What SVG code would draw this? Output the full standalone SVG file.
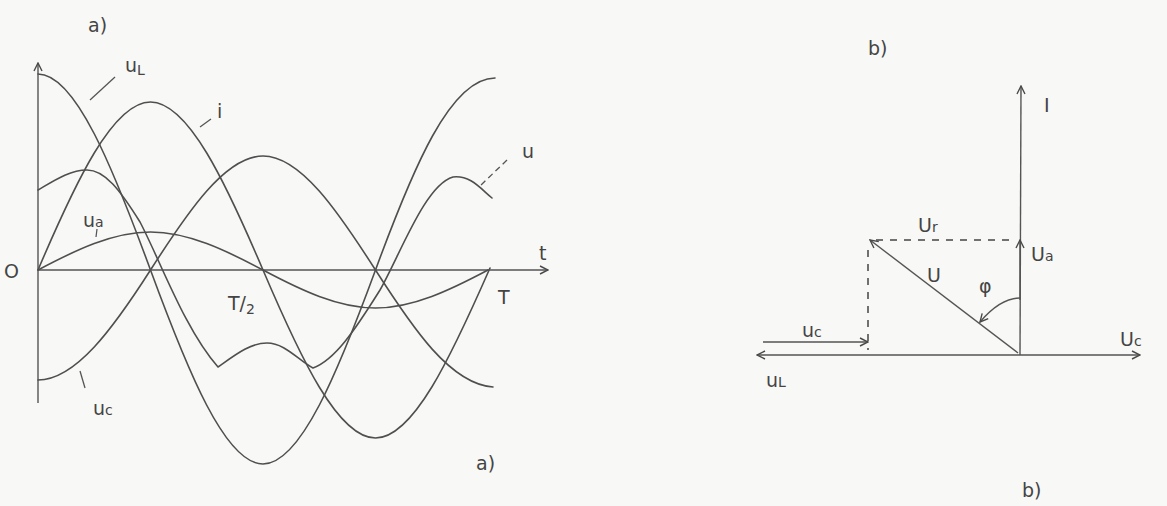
<svg xmlns="http://www.w3.org/2000/svg" width="1167" height="506" viewBox="0 0 1167 506">
<defs>
<marker id="arr" viewBox="0 0 10 10" refX="9" refY="5" markerWidth="10" markerHeight="10" markerUnits="userSpaceOnUse" orient="auto-start-reverse">
<path d="M1,1 L9,5 L1,9" fill="none" stroke="#4a4a4a" stroke-width="1.4"/>
</marker>
<style>
.ln{fill:none;stroke:#4f4f4f;stroke-width:1.6;stroke-linecap:round;stroke-linejoin:round}
.ax{fill:none;stroke:#555;stroke-width:1.4}
.ds{fill:none;stroke:#444;stroke-width:1.5;stroke-dasharray:7 7}
.ld{fill:none;stroke:#555;stroke-width:1.3}
text{font-family:"DejaVu Sans","Liberation Sans",sans-serif;fill:#444;font-size:19px}
.sb{font-size:14px}
</style>
</defs>
<rect width="1167" height="506" fill="#f8f8f6"/>

<g id="panel-a">
<g id="axes-a">
<line class="ax" x1="38" y1="403" x2="38" y2="63" marker-end="url(#arr)"/>
<line class="ax" x1="38" y1="270" x2="548" y2="270" marker-end="url(#arr)"/>
</g>
<g id="curves-a">
<path id="curve-i" class="ln" d="M38,270 C75.5,182 113,102 150.5,102 C188,102 225.5,182 263,270 C300.5,358 338,438 375.5,438 C413,438 450.5,358 490,268"/>
<path id="curve-uL" class="ln" d="M38,74 C75.5,74 113,168 150.5,270 C188,372 225.5,464 263,464 C300.5,464 338,372 375.5,270 C413,168 450.5,78 495,78"/>
<path id="curve-uc" class="ln" d="M38,380 C75.5,380 113,328.6 150.5,270 C188,211.4 225.5,156 263,156 C300.5,156 338,211.4 375.5,270 C413,328.6 450.5,384 493,387"/>
<path id="curve-ua" class="ln" d="M38,270 C75.5,250.1 113,232 150.5,232 C188,232 225.5,250.1 263,270 C300.5,289.9 338,308 375.5,308 C413,308 450.5,289.9 488,270"/>
<path id="curve-u" class="ln" d="M38,190 C55,180 70,170 87,170 C105,170 120,190 140,222 C160,260 185,330 218,367 C235,355 250,343 267,343 C285,343 298,360 313,368 C335,360 355,330 380,290 C400,255 425,185 453,177 C470,175 480,188 492,198"/>
</g>
<g id="leaders-a">
<line class="ld" x1="115" y1="77" x2="90" y2="100"/>
<line class="ld" x1="211" y1="119" x2="200" y2="127"/>
<line class="ld" x1="507" y1="160" x2="481" y2="185" stroke-dasharray="6 4"/>
<line class="ld" x1="97" y1="229" x2="96" y2="237"/>
<line class="ld" x1="80" y1="371" x2="85" y2="388"/>
</g>
<g id="labels-a">
<text x="88" y="32">a)</text>
<text x="125" y="72">u<tspan class="sb" dy="3">L</tspan></text>
<text x="217" y="118">i</text>
<text x="522" y="158">u</text>
<text x="83" y="227">u<tspan class="sb" dy="0">a</tspan></text>
<text x="4" y="278">O</text>
<text x="539" y="260">t</text>
<text x="228" y="310">T/<tspan class="sb" dy="4">2</tspan></text>
<text x="498" y="304">T</text>
<text x="93" y="415">u<tspan class="sb" dy="0">c</tspan></text>
<text x="476" y="470">a)</text>
</g>
</g>

<g id="panel-b">
<g id="connectors-b">
<line class="ax" x1="1020" y1="355" x2="757" y2="355" marker-end="url(#arr)"/>
<line class="ax" x1="1020" y1="355" x2="1140" y2="355" marker-end="url(#arr)"/>
<line class="ax" x1="1020" y1="355" x2="1021" y2="86" marker-end="url(#arr)"/>
<line class="ax" x1="1020" y1="300" x2="1020" y2="240" marker-end="url(#arr)"/>
<line class="ax" x1="1018" y1="353" x2="870" y2="240" marker-end="url(#arr)"/>
<line class="ax" x1="763" y1="342" x2="868" y2="342" marker-end="url(#arr)"/>
<line class="ds" x1="876" y1="240" x2="1016" y2="240"/>
<line class="ds" x1="868" y1="250" x2="868" y2="350"/>
<path class="ax" d="M1020,298 C1005,298 992,308 980,322" marker-end="url(#arr)"/>
</g>
<g id="labels-b">
<text x="868" y="55">b)</text>
<text x="1044" y="112">I</text>
<text x="918" y="232">U<tspan class="sb">r</tspan></text>
<text x="1031" y="261">U<tspan class="sb">a</tspan></text>
<text x="927" y="282">U</text>
<text x="979" y="293">φ</text>
<text x="802" y="337">u<tspan class="sb">c</tspan></text>
<text x="766" y="387">u<tspan class="sb">L</tspan></text>
<text x="1120" y="346">U<tspan class="sb">c</tspan></text>
<text x="1022" y="497">b)</text>
</g>
</g>
</svg>
